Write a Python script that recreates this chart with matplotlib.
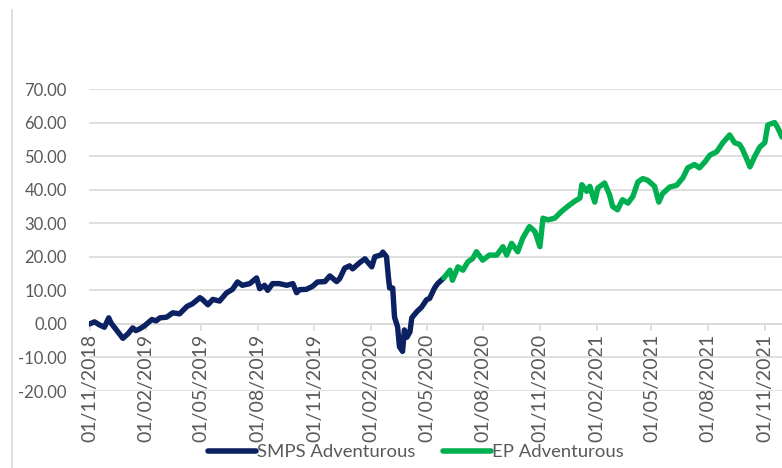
import numpy as np
import pandas as pd
import matplotlib
matplotlib.use('Agg')
import matplotlib.pyplot as plt
import matplotlib.dates as mdates
from matplotlib.lines import Line2D

plt.rcParams['font.family'] = ['Lato', 'DejaVu Sans']

smps_dates = ['2018-11-01', '2018-11-09', '2018-11-17', '2018-11-25', '2018-12-02', '2018-12-06',
              '2018-12-12', '2018-12-25', '2019-01-02', '2019-01-10', '2019-01-15', '2019-01-21',
              '2019-01-29', '2019-02-10', '2019-02-17', '2019-02-23', '2019-03-06', '2019-03-16',
              '2019-03-27', '2019-04-08', '2019-04-17', '2019-04-29', '2019-05-03', '2019-05-12',
              '2019-05-20', '2019-05-31', '2019-06-11', '2019-06-21', '2019-06-29', '2019-07-07',
              '2019-07-19', '2019-07-30', '2019-08-04', '2019-08-12', '2019-08-17', '2019-08-25',
              '2019-09-05', '2019-09-17', '2019-09-27', '2019-10-03', '2019-10-08', '2019-10-19',
              '2019-10-29', '2019-11-06', '2019-11-18', '2019-11-26', '2019-12-07', '2019-12-12',
              '2019-12-20', '2019-12-28', '2020-01-02', '2020-01-13', '2020-01-22', '2020-01-26',
              '2020-02-02', '2020-02-07', '2020-02-18', '2020-02-20', '2020-02-26', '2020-02-29',
              '2020-03-02', '2020-03-07', '2020-03-10', '2020-03-15', '2020-03-18', '2020-03-23',
              '2020-03-26', '2020-03-30', '2020-04-04', '2020-04-07', '2020-04-15', '2020-04-23',
              '2020-05-01', '2020-05-06', '2020-05-14', '2020-05-19', '2020-05-29']
smps_vals = [0.0, 0.6, -0.3, -1.0, 1.8, 0.2,
             -1.2, -4.3, -3.0, -1.2, -2.0, -1.5,
             -0.6, 1.3, 0.9, 1.8, 2.0, 3.3,
             3.0, 5.2, 6.0, 7.8, 7.3, 5.7,
             7.3, 6.8, 9.2, 10.3, 12.5, 11.5,
             12.0, 13.7, 10.5, 11.5, 10.0, 12.0,
             12.0, 11.5, 12.0, 9.3, 10.2, 10.3,
             11.2, 12.5, 12.6, 14.3, 12.6, 13.5,
             16.6, 17.3, 16.4, 18.2, 19.4, 18.5,
             17.0, 20.0, 20.6, 21.4, 20.0, 14.0,
             10.7, 10.7, 2.0, -0.9, -6.8, -8.2,
             -1.8, -4.0, -2.4, 1.8, 3.6, 5.0,
             7.2, 7.6, 10.7, 12.0, 13.7]

ep_dates = ['2020-05-29', '2020-06-08', '2020-06-12', '2020-06-21', '2020-06-29', '2020-07-07',
            '2020-07-15', '2020-07-21', '2020-07-31', '2020-08-11', '2020-08-23', '2020-09-02',
            '2020-09-08', '2020-09-16', '2020-09-26', '2020-10-04', '2020-10-15', '2020-10-24',
            '2020-11-01', '2020-11-06', '2020-11-14', '2020-11-25', '2020-12-06', '2020-12-16',
            '2020-12-27', '2021-01-05', '2021-01-08', '2021-01-16', '2021-01-21', '2021-01-29',
            '2021-02-03', '2021-02-14', '2021-02-22', '2021-02-27', '2021-03-07', '2021-03-15',
            '2021-03-24', '2021-04-01', '2021-04-09', '2021-04-17', '2021-04-25', '2021-05-06',
            '2021-05-13', '2021-05-19', '2021-05-31', '2021-06-11', '2021-06-21', '2021-06-29',
            '2021-07-10', '2021-07-18', '2021-07-27', '2021-08-04', '2021-08-15', '2021-08-25',
            '2021-09-05', '2021-09-13', '2021-09-21', '2021-09-26', '2021-10-03', '2021-10-08',
            '2021-10-16', '2021-10-24', '2021-11-01', '2021-11-06', '2021-11-17', '2021-11-22',
            '2021-11-29']
ep_vals = [13.7, 16.0, 13.0, 17.0, 16.0, 18.5,
           19.5, 21.5, 19.0, 20.5, 20.5, 23.0,
           20.5, 24.0, 21.5, 25.5, 29.0, 27.5,
           23.0, 31.5, 31.0, 31.5, 33.5, 35.0,
           36.5, 37.5, 41.5, 39.5, 41.0, 36.3,
           40.5, 42.0, 38.5, 35.0, 34.0, 37.0,
           36.0, 38.0, 42.3, 43.3, 42.8, 41.0,
           36.3, 38.8, 40.8, 41.3, 43.5, 46.5,
           47.5, 46.5, 48.3, 50.3, 51.3, 54.0,
           56.3, 54.0, 53.5, 52.0, 49.0, 46.8,
           50.0, 52.7, 54.0, 59.3, 60.0, 58.5,
           55.7]

tick_dates = ['2018-11-01', '2019-02-01', '2019-05-01', '2019-08-01', '2019-11-01',
              '2020-02-01', '2020-05-01', '2020-08-01', '2020-11-01', '2021-02-01',
              '2021-05-01', '2021-08-01', '2021-11-01']
y_ticks = [-20, -10, 0, 10, 20, 30, 40, 50, 60, 70]

navy = '#0b2161'
green = '#00b050'
grey_text = '#595959'
grid_col = '#d9d9d9'

fig = plt.figure(figsize=(7.82, 4.68), dpi=100)
ax = fig.add_axes([89/782, 77/468, 693/782, 302/468])

ax.plot(pd.to_datetime(smps_dates), smps_vals, color=navy, lw=3.9,
        solid_joinstyle='round', solid_capstyle='round', label='SMPS Adventurous', zorder=3)
ax.plot(pd.to_datetime(ep_dates), ep_vals, color=green, lw=3.9,
        solid_joinstyle='round', solid_capstyle='round', label='EP Adventurous', zorder=3)

ax.set_ylim(-20, 70)
ax.set_xlim(pd.Timestamp('2018-10-31'), pd.Timestamp('2021-11-29'))
ax.set_yticks(y_ticks)
ax.set_yticklabels(['%.2f' % v for v in y_ticks])
ax.yaxis.grid(True, color=grid_col, lw=1.2)
ax.set_axisbelow(True)

ax.set_xticks(pd.to_datetime(tick_dates))
ax.xaxis.set_major_formatter(mdates.DateFormatter('%d/%m/%Y'))

for s in ['top', 'right', 'left']:
    ax.spines[s].set_visible(False)
ax.spines['bottom'].set_position(('data', 0))
ax.spines['bottom'].set_color(grid_col)
ax.spines['bottom'].set_linewidth(1.2)

ax.tick_params(axis='y', length=0, pad=16, labelsize=12, labelcolor=grey_text)
ax.tick_params(axis='x', length=5, width=1.2, color=grid_col, pad=2,
               labelsize=14, labelcolor=grey_text, labelrotation=90)

leg = fig.legend(loc='center', bbox_to_anchor=(416/782, 1 - 452/468), ncol=2,
                 frameon=False, fontsize=13.3, handlelength=2.6, handletextpad=0.05,
                 columnspacing=1.5, labelcolor=grey_text)
for h in leg.get_lines():
    h.set_linewidth(4)

fig.add_artist(Line2D([12/782, 12/782], [0, 1 - 10/468], transform=fig.transFigure,
                      color=grid_col, lw=1.2))

fig.savefig('out.png', dpi=100)
